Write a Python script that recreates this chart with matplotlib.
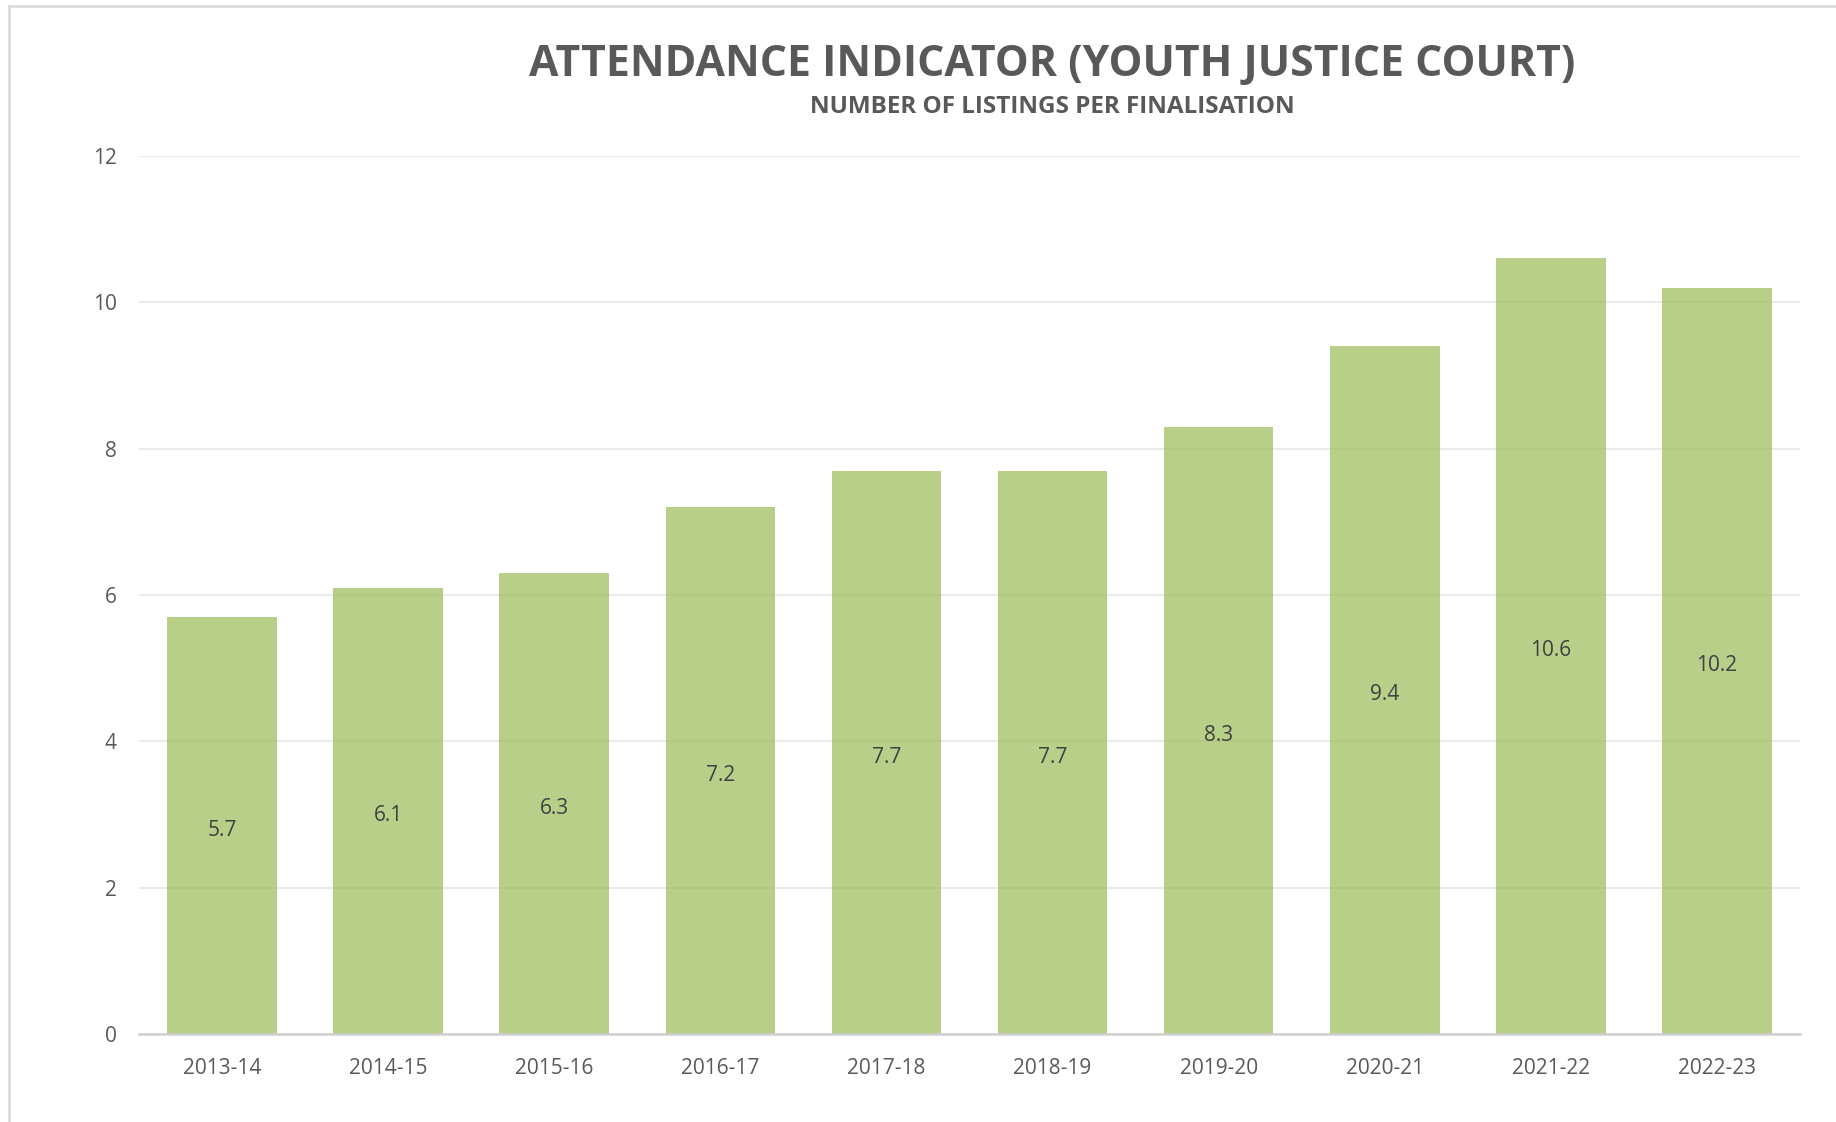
import matplotlib
matplotlib.use("Agg")
import matplotlib.pyplot as plt
from matplotlib.lines import Line2D

# data
years = ["2013-14", "2014-15", "2015-16", "2016-17", "2017-18",
         "2018-19", "2019-20", "2020-21", "2021-22", "2022-23"]
listings = [5.7, 6.1, 6.3, 7.2, 7.7, 7.7, 8.3, 9.4, 10.6, 10.2]
y_ticks = [0, 2, 4, 6, 8, 10, 12]

plt.rcParams['font.family'] = ['Open Sans', 'DejaVu Sans']
grey = '#595959'

fig = plt.figure(figsize=(18.36, 11.22), dpi=100)
ax = fig.add_axes([0.0757, 0.0784, 0.9047, 0.7826])

x = range(len(years))
ax.set_axisbelow(True)
ax.yaxis.grid(True, color='#EBEBEB', linewidth=1.5)
bars = ax.bar(x, listings, width=0.66, color='#9BBB59', alpha=0.7, zorder=2)

for xi, v in zip(x, listings):
    ax.text(xi, v / 2 - 0.03, f"{v:.1f}", ha='center', va='center_baseline',
            fontsize=15, color='#404040', zorder=3)

ax.set_xlim(-0.5, len(years) - 0.5)
ax.set_ylim(0, 12)
ax.set_yticks(y_ticks)
ax.set_xticks(list(x))
ax.set_xticklabels(years)
ax.tick_params(axis='both', length=0, labelsize=15, labelcolor=grey)
ax.tick_params(axis='y', pad=16)
ax.tick_params(axis='x', pad=17)

for side in ['top', 'right', 'left']:
    ax.spines[side].set_visible(False)
ax.spines['bottom'].set_color('#D0D0D0')
ax.spines['bottom'].set_linewidth(1.8)

fig.text(0.573, 0.9425, "ATTENDANCE INDICATOR (YOUTH JUSTICE COURT)",
         ha='center', va='center', fontsize=30.8, fontweight='bold', color=grey)
fig.text(0.573, 0.905, "NUMBER OF LISTINGS PER FINALISATION",
         ha='center', va='center', fontsize=17.5, fontweight='bold', color=grey)

# outer chart frame, cut off at right and bottom
fig.add_artist(Line2D([9 / 1836, 1], [1 - 6 / 1122, 1 - 6 / 1122],
                      color='#D9D9D9', linewidth=1.8, transform=fig.transFigure))
fig.add_artist(Line2D([9 / 1836, 9 / 1836], [0, 1 - 6 / 1122],
                      color='#D9D9D9', linewidth=1.8, transform=fig.transFigure))

fig.savefig("out.png", dpi=100, facecolor='white')
